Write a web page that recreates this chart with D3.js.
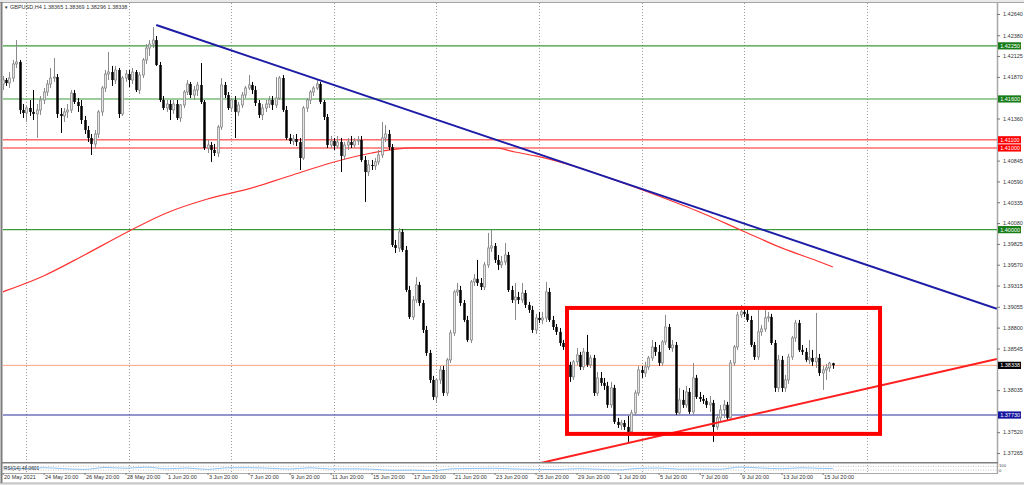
<!DOCTYPE html>
<html>
<head>
<meta charset="utf-8">
<script src="https://cdn.jsdelivr.net/npm/d3@7"></script>
<style>
html, body { margin: 0; padding: 0; background: #fff; overflow: hidden; }
svg text { font-family: "Liberation Sans", Arial, sans-serif; }
</style>
</head>
<body>
<svg id="chart" width="1024" height="485"></svg>
<script>
// GBPUSD H4 candles (bar 0 = 20 May 20:00)
const title = "GBPUSD,H4";
const lastQuote = [1.38365, 1.38369, 1.38296, 1.38338];

const opens = [1.41783,1.41832,1.41795,1.41856,1.42028,1.42053,1.41465,1.41428,1.41489,1.41441,
1.41416,1.41465,1.41587,1.41685,1.41783,1.41856,1.41868,1.41416,1.41392,1.41441,
1.41465,1.41672,1.41563,1.41514,1.41342,1.41220,1.41122,1.41048,1.41171,1.41441,
1.41734,1.41905,1.41930,1.41832,1.41954,1.41416,1.41856,1.41905,1.41832,1.41930,
1.41709,1.41893,1.42077,1.42223,1.42272,1.42321,1.42016,1.41587,1.41489,1.41538,
1.41465,1.41538,1.41367,1.41526,1.41685,1.41783,1.41648,1.41709,1.41771,1.41563,
1.40999,1.41036,1.40975,1.40938,1.41256,1.41771,1.41648,1.41489,1.41587,1.41441,
1.41526,1.41648,1.41734,1.41771,1.41709,1.41550,1.41404,1.41489,1.41538,1.41587,
1.41526,1.41611,1.41856,1.41465,1.41122,1.41085,1.41110,1.41073,1.40877,1.41489,
1.41587,1.41685,1.41734,1.41783,1.41563,1.41379,1.41036,1.41085,1.41024,1.41073,
1.40902,1.41036,1.41073,1.41036,1.41085,1.41097,1.40853,1.40706,1.40792,1.40780,
1.40829,1.40914,1.41122,1.41171,1.41011,1.39812,1.39775,1.39972,1.39751,1.39261,
1.38931,1.39139,1.39323,1.39102,1.38772,1.38490,1.38160,1.37951,1.38160,1.38282,
1.38000,1.38405,1.38735,1.39237,1.39261,1.39102,1.38894,1.38649,1.39360,1.39396,
1.39347,1.39298,1.39568,1.39775,1.39800,1.39629,1.39568,1.39605,1.39690,1.39261,
1.39139,1.39175,1.39139,1.39224,1.39078,1.39017,1.38772,1.38919,1.38894,1.38919,
1.39237,1.38894,1.38808,1.38748,1.38612,1.38563,1.38344,1.38196,1.38381,1.38466,
1.38319,1.38503,1.38344,1.38429,1.38000,1.38184,1.38123,1.38087,1.37854,1.38062,
1.37646,1.37609,1.37633,1.37584,1.37524,1.37756,1.38000,1.38282,1.38245,1.38319,
1.38429,1.38563,1.38503,1.38368,1.38625,1.38808,1.38551,1.38588,1.37756,1.37915,
1.37854,1.38013,1.37769,1.38184,1.37951,1.37927,1.37903,1.37854,1.37878,1.37584,
1.37695,1.37793,1.37854,1.37695,1.38368,1.38563,1.38956,1.38993,1.38968,1.38894,
1.38588,1.38441,1.38748,1.38784,1.38919,1.38931,1.38612,1.38062,1.38405,1.38062,
1.38160,1.38441,1.38674,1.38857,1.38527,1.38503,1.38405,1.38429,1.38381,1.38429,
1.38245,1.38282,1.38307,1.38365];

const highs = [1.41881,1.41856,1.41930,1.42077,1.42321,1.42077,1.41538,1.41514,1.41587,1.41709,
1.41538,1.41636,1.41734,1.41832,1.41979,1.42101,1.41905,1.41489,1.41489,1.41538,
1.41709,1.41709,1.41611,1.41587,1.41392,1.41269,1.41171,1.41220,1.41465,1.41759,
1.41954,1.42175,1.42004,1.42004,1.41979,1.41881,1.41954,1.41954,1.41979,1.41954,
1.41930,1.42101,1.42272,1.42321,1.42480,1.42371,1.42053,1.41636,1.41587,1.41587,
1.41587,1.41587,1.41538,1.41709,1.41832,1.41808,1.41759,1.41808,1.42040,1.41587,
1.41097,1.41073,1.41048,1.41281,1.41856,1.41808,1.41685,1.41611,1.41636,1.41563,
1.41685,1.41759,1.41893,1.41808,1.41759,1.41587,1.41538,1.41587,1.41636,1.41636,
1.41868,1.41881,1.41893,1.41514,1.41171,1.41159,1.41171,1.41122,1.41514,1.41611,
1.41709,1.41759,1.41844,1.41808,1.41587,1.41416,1.41147,1.41122,1.41147,1.41122,
1.41073,1.41122,1.41147,1.41122,1.41147,1.41147,1.40902,1.40853,1.40853,1.40877,
1.40975,1.41318,1.41281,1.41220,1.41048,1.39873,1.40020,1.40008,1.39800,1.39311,
1.39188,1.39420,1.39360,1.39139,1.38821,1.38527,1.38209,1.38184,1.38332,1.38332,
1.38429,1.38772,1.39261,1.39347,1.39311,1.39139,1.38944,1.39384,1.39457,1.39629,
1.39408,1.39605,1.39959,1.39996,1.39836,1.39690,1.39678,1.39836,1.39727,1.39311,
1.39347,1.39237,1.39347,1.39261,1.39115,1.39066,1.38968,1.38993,1.38993,1.39360,
1.39286,1.38944,1.38845,1.38796,1.38649,1.38600,1.38381,1.38405,1.38551,1.38503,
1.38551,1.38711,1.38466,1.38466,1.38258,1.38258,1.38184,1.38136,1.38136,1.38099,
1.37695,1.37670,1.37670,1.37720,1.37793,1.38037,1.38332,1.38332,1.38381,1.38454,
1.38649,1.38625,1.38588,1.38649,1.38956,1.38845,1.38649,1.38625,1.38062,1.38037,
1.38087,1.38062,1.38368,1.38221,1.38013,1.37976,1.37939,1.37964,1.37915,1.37744,
1.37854,1.37915,1.37891,1.38405,1.38588,1.38993,1.39078,1.39066,1.39041,1.38944,
1.38625,1.39017,1.38833,1.39017,1.38993,1.38968,1.38649,1.38466,1.38454,1.38221,
1.38478,1.38699,1.38894,1.38894,1.38588,1.38551,1.38649,1.38527,1.38980,1.38478,
1.38332,1.38356,1.38381,1.38369];

const lows = [1.41709,1.41759,1.41734,1.41808,1.41979,1.41416,1.41367,1.41318,1.41392,1.41342,
1.41122,1.41404,1.41538,1.41636,1.41734,1.41808,1.41367,1.41183,1.41318,1.41367,
1.41428,1.41538,1.41441,1.41293,1.41171,1.41073,1.40914,1.40999,1.41122,1.41392,
1.41685,1.41832,1.41759,1.41783,1.41367,1.41392,1.41808,1.41746,1.41783,1.41685,
1.41660,1.41856,1.42028,1.42126,1.42223,1.42004,1.41563,1.41465,1.41441,1.41342,
1.41416,1.41342,1.41318,1.41489,1.41648,1.41611,1.41587,1.41636,1.41538,1.40975,
1.40938,1.40829,1.40902,1.40889,1.41220,1.41611,1.41465,1.41441,1.41122,1.41392,
1.41489,1.41611,1.41709,1.41660,1.41514,1.41367,1.41342,1.41441,1.41489,1.41465,
1.41489,1.41587,1.41441,1.41097,1.41048,1.41036,1.41024,1.40730,1.40853,1.41441,
1.41538,1.41636,1.41709,1.41538,1.41342,1.40999,1.40999,1.40975,1.40999,1.40706,
1.40853,1.40975,1.40999,1.40999,1.41036,1.40829,1.40339,1.40657,1.40730,1.40730,
1.40792,1.40877,1.41073,1.40975,1.39787,1.39714,1.39727,1.39727,1.39237,1.38907,
1.38894,1.39102,1.39066,1.38735,1.38454,1.38123,1.37915,1.37878,1.38111,1.37964,
1.37964,1.38368,1.38699,1.39188,1.39066,1.38870,1.38625,1.38612,1.39311,1.39311,
1.39261,1.39261,1.39531,1.39727,1.39592,1.39506,1.39531,1.39568,1.39237,1.39102,
1.38894,1.39090,1.39102,1.39041,1.38980,1.38735,1.38723,1.38857,1.38845,1.38870,
1.38870,1.38772,1.38711,1.38576,1.38527,1.38307,1.38136,1.38160,1.38344,1.38282,
1.38282,1.38319,1.38307,1.37964,1.37964,1.38087,1.38037,1.37817,1.37817,1.37621,
1.37572,1.37548,1.37548,1.37401,1.37487,1.37720,1.37964,1.38184,1.38196,1.38282,
1.38393,1.38454,1.38332,1.38332,1.38588,1.38527,1.38503,1.37732,1.37732,1.37817,
1.37817,1.37744,1.37732,1.37927,1.37891,1.37866,1.37817,1.37769,1.37401,1.37548,
1.37646,1.37695,1.37670,1.37670,1.38332,1.38527,1.38919,1.38931,1.38870,1.38563,
1.38405,1.38405,1.38699,1.38748,1.38870,1.38588,1.38013,1.38013,1.38013,1.38013,
1.38111,1.38405,1.38625,1.38503,1.38466,1.38381,1.38356,1.38332,1.38307,1.38209,
1.38037,1.38160,1.38258,1.38296];

const closes = [1.41832,1.41795,1.41856,1.42028,1.42053,1.41465,1.41428,1.41489,1.41441,1.41416,
1.41465,1.41587,1.41685,1.41783,1.41856,1.41868,1.41416,1.41392,1.41441,1.41465,
1.41672,1.41563,1.41514,1.41342,1.41220,1.41122,1.41048,1.41171,1.41441,1.41734,
1.41905,1.41930,1.41832,1.41954,1.41416,1.41856,1.41905,1.41832,1.41930,1.41709,
1.41893,1.42077,1.42223,1.42272,1.42321,1.42016,1.41587,1.41489,1.41538,1.41465,
1.41538,1.41367,1.41526,1.41685,1.41783,1.41648,1.41709,1.41771,1.41563,1.40999,
1.41036,1.40975,1.40938,1.41256,1.41771,1.41648,1.41489,1.41587,1.41441,1.41526,
1.41648,1.41734,1.41771,1.41709,1.41550,1.41404,1.41489,1.41538,1.41587,1.41526,
1.41611,1.41856,1.41465,1.41122,1.41085,1.41110,1.41073,1.40877,1.41489,1.41587,
1.41685,1.41734,1.41783,1.41563,1.41379,1.41036,1.41085,1.41024,1.41073,1.40902,
1.41036,1.41073,1.41036,1.41085,1.41097,1.40853,1.40706,1.40792,1.40780,1.40829,
1.40914,1.41122,1.41171,1.41011,1.39812,1.39775,1.39972,1.39751,1.39261,1.38931,
1.39139,1.39323,1.39102,1.38772,1.38490,1.38160,1.37951,1.38160,1.38282,1.38000,
1.38405,1.38735,1.39237,1.39261,1.39102,1.38894,1.38649,1.39360,1.39396,1.39347,
1.39298,1.39568,1.39775,1.39800,1.39629,1.39568,1.39605,1.39690,1.39261,1.39139,
1.39175,1.39139,1.39224,1.39078,1.39017,1.38772,1.38919,1.38894,1.38919,1.39237,
1.38894,1.38808,1.38748,1.38612,1.38563,1.38344,1.38196,1.38381,1.38466,1.38319,
1.38503,1.38344,1.38429,1.38000,1.38184,1.38123,1.38087,1.37854,1.38062,1.37646,
1.37609,1.37633,1.37584,1.37524,1.37756,1.38000,1.38282,1.38245,1.38319,1.38429,
1.38563,1.38503,1.38368,1.38625,1.38808,1.38551,1.38588,1.37756,1.37915,1.37854,
1.38013,1.37769,1.38184,1.37951,1.37927,1.37903,1.37854,1.37878,1.37584,1.37695,
1.37793,1.37854,1.37695,1.38368,1.38563,1.38956,1.38993,1.38968,1.38894,1.38588,
1.38441,1.38748,1.38784,1.38919,1.38931,1.38612,1.38062,1.38405,1.38062,1.38160,
1.38441,1.38674,1.38857,1.38527,1.38503,1.38405,1.38429,1.38381,1.38429,1.38245,
1.38282,1.38307,1.38365,1.38338];

// red moving average
const maBars   = [0, 12, 24, 36, 48, 60, 72, 84, 96, 108, 120, 132, 144, 150, 156, 168, 180, 192, 204, 216, 228, 240, 243];
const maValues = [1.39237,1.39433,1.39690,1.39959,1.40204,1.40375,1.40498,1.40657,1.40816,1.40938,1.41000,1.41000,
                  1.41000,1.40950,1.40902,1.40767,1.40596,1.40412,1.40216,1.39996,1.39776,1.39592,1.39543];

// RSI(14) sub window
const rsiBars   = [0,6,12,18,24,30,36,42,48,54,60,66,72,78,84,90,96,102,108,114,120,126,132,138,144,150,156,162,168,174,180,186,192,198,204,210,216,222,228,234,240,243];
const rsiValues = [55,45,56,45,38,58,50,62,44,52,38,55,56,50,42,55,42,44,40,28,30,25,45,48,50,42,38,36,45,40,32,48,52,40,42,40,62,52,45,55,48,48.06];
const rsiLabel = "RSI(14) 48.0601";

// horizontal levels drawn on the chart
const levelPrices = [1.42250, 1.41600, 1.41100, 1.41000, 1.40000, 1.37730];
const levelKinds  = ["green", "green", "red", "red", "green", "navy"];
const bidPrice = 1.38338;

// trend lines: [bar, price] anchors, drawn as rays
const downTrend = [[45, 1.42505], [92, 1.41841]];
const upTrend   = [[183, 1.37386], [243, 1.37958]];
// rectangle: bar range and price range
const boxBars   = [165.2, 256.8];
const boxPrices = [1.39041, 1.37499];

// axes
const priceTicks = [1.42640,1.42380,1.42125,1.41870,1.41615,1.41360,1.41105,1.40845,1.40590,1.40335,1.40080,
                    1.39825,1.39570,1.39315,1.39055,1.38800,1.38545,1.38290,1.38035,1.37780,1.37520,1.37265];
const timeBars   = [0,12,24,36,48,60,72,84,96,108,120,132,144,156,168,180,192,204,216,228,240];
const timeLabels = ["20 May 2021","24 May 20:00","26 May 20:00","28 May 20:00","1 Jun 20:00","3 Jun 20:00",
                    "7 Jun 20:00","9 Jun 20:00","11 Jun 20:00","15 Jun 20:00","17 Jun 20:00","21 Jun 20:00",
                    "23 Jun 20:00","25 Jun 20:00","29 Jun 20:00","1 Jul 20:00","5 Jul 20:00","7 Jul 20:00",
                    "9 Jul 20:00","13 Jul 20:00","15 Jul 20:00"];
const gridBars = [7, 37, 67, 97, 127, 157, 187, 217, 253];

const W = 1024, H = 485;
const L = 3, R = 997, T = 3, B = 462, RT = 463.5, RB = 473;
const FONT = "5.5px";

const svg = d3.select("#chart");
const x = d3.scaleLinear().domain([0, 291]).range([2.5, 996.9]);
const y = d3.scaleLinear().domain([1.37265, 1.42640]).range([453, 14]);
const yr = d3.scaleLinear().domain([0, 100]).range([RB, RT]);

const colors = { green: "#3c9a3c", red: "#ff6b6b", navy: "#2a2aa0" };
const labelFill = { green: "#187d18", red: "#ff0000", navy: "#1414a0" };

svg.append("rect").attr("width", W).attr("height", H).attr("fill", "#fff");

const defs = svg.append("defs");
defs.append("clipPath").attr("id", "mainClip")
  .append("rect").attr("x", L).attr("y", T).attr("width", R - L).attr("height", B - T);
defs.append("clipPath").attr("id", "rsiClip")
  .append("rect").attr("x", L).attr("y", RT).attr("width", R - L).attr("height", RB - RT);

// grid
svg.append("g").selectAll("line").data(gridBars).join("line")
  .attr("x1", d => Math.round(x(d)) + 0.5).attr("x2", d => Math.round(x(d)) + 0.5)
  .attr("y1", T).attr("y2", RB)
  .attr("stroke", "#9c9c9c").attr("stroke-width", 1).attr("stroke-dasharray", "1,2");

const main = svg.append("g").attr("clip-path", "url(#mainClip)");

// horizontal levels
main.append("g").selectAll("line").data(levelPrices).join("line")
  .attr("x1", L).attr("x2", R)
  .attr("y1", d => y(d)).attr("y2", d => y(d))
  .attr("stroke", (d, i) => colors[levelKinds[i]])
  .attr("stroke-width", (d, i) => levelKinds[i] === "red" ? 1.6 : 1.1);
main.append("line").attr("x1", L).attr("x2", R).attr("y1", y(bidPrice)).attr("y2", y(bidPrice))
  .attr("stroke", "#ffa37f").attr("stroke-width", 1);

// moving average
main.append("path")
  .datum(maBars.map((b, i) => [b, maValues[i]]))
  .attr("fill", "none").attr("stroke", "#ff3434").attr("stroke-width", 1.2)
  .attr("d", d3.line().x(d => x(d[0])).y(d => y(d[1])).curve(d3.curveMonotoneX));

// candles
const candles = d3.range(opens.length).map(i => ({ i, o: opens[i], h: highs[i], l: lows[i], c: closes[i] }));
const cg = main.append("g");
cg.selectAll("line").data(candles).join("line")
  .attr("x1", d => Math.round(x(d.i)) + 0.5).attr("x2", d => Math.round(x(d.i)) + 0.5)
  .attr("y1", d => y(d.h)).attr("y2", d => y(d.l))
  .attr("stroke", d => d.c >= d.o ? "#8a8a8a" : "#000").attr("stroke-width", 1);
cg.selectAll("rect").data(candles).join("rect")
  .attr("x", d => d.c >= d.o ? Math.round(x(d.i)) - 0.5 : Math.round(x(d.i)) - 0.75)
  .attr("width", d => d.c >= d.o ? 2 : 2.5)
  .attr("y", d => y(Math.max(d.o, d.c)))
  .attr("height", d => Math.max(1, y(Math.min(d.o, d.c)) - y(Math.max(d.o, d.c))))
  .attr("fill", d => d.c >= d.o ? "#e4e4e4" : "#000")
  .attr("stroke", d => d.c >= d.o ? "#8a8a8a" : "none")
  .attr("stroke-width", 0.8);

// trend lines (rays to the right edge)
function ray(pts, fromBar) {
  const k = (pts[1][1] - pts[0][1]) / (pts[1][0] - pts[0][0]);
  const b0 = fromBar == null ? pts[0][0] : fromBar;
  return [[b0, pts[0][1] + k * (b0 - pts[0][0])], [291, pts[0][1] + k * (291 - pts[0][0])]];
}
const lineGen = d3.line().x(d => x(d[0])).y(d => y(d[1]));
main.append("path").datum(ray(downTrend)).attr("d", lineGen)
  .attr("fill", "none").attr("stroke", "#1c1ca6").attr("stroke-width", 2);
main.append("path").datum(ray(upTrend, 140)).attr("d", lineGen)
  .attr("fill", "none").attr("stroke", "#ff1f1f").attr("stroke-width", 2);

// rectangle
main.append("rect")
  .attr("x", x(boxBars[0])).attr("width", x(boxBars[1]) - x(boxBars[0]))
  .attr("y", y(boxPrices[0])).attr("height", y(boxPrices[1]) - y(boxPrices[0]))
  .attr("fill", "none").attr("stroke", "#ff0000").attr("stroke-width", 4);

// RSI window
svg.append("g").selectAll("line").data([70, 30]).join("line")
  .attr("x1", L).attr("x2", R).attr("y1", d => yr(d)).attr("y2", d => yr(d))
  .attr("stroke", "#b8b8b8").attr("stroke-width", 0.8).attr("stroke-dasharray", "1,1.5");
svg.append("path").attr("clip-path", "url(#rsiClip)")
  .datum(rsiBars.map((b, i) => [b, rsiValues[i]]))
  .attr("fill", "none").attr("stroke", "#8cc2ef").attr("stroke-width", 1)
  .attr("d", d3.line().x(d => x(d[0])).y(d => yr(d[1])).curve(d3.curveMonotoneX));
svg.append("text").attr("x", 4).attr("y", 469.8).attr("font-size", "4.8px").attr("fill", "#333").text(rsiLabel);

// frame
svg.append("rect").attr("x", 0).attr("y", 0).attr("width", W).attr("height", 2.5).attr("fill", "#e9e9e9");
svg.append("line").attr("x1", 0).attr("x2", W).attr("y1", 2.5).attr("y2", 2.5).attr("stroke", "#a5a5a5");
svg.append("line").attr("x1", 1.5).attr("x2", 1.5).attr("y1", 2).attr("y2", 483).attr("stroke", "#7c7c7c").attr("stroke-width", 2);
svg.append("line").attr("x1", R + 0.5).attr("x2", R + 0.5).attr("y1", T).attr("y2", RB).attr("stroke", "#a8a8a8").attr("stroke-width", 1.5);
svg.append("line").attr("x1", 2).attr("x2", R + 1).attr("y1", B + 0.8).attr("y2", B + 0.8).attr("stroke", "#808080").attr("stroke-width", 1.6);
svg.append("line").attr("x1", 2).attr("x2", R + 1).attr("y1", RB + 0.5).attr("y2", RB + 0.5).attr("stroke", "#a8a8a8").attr("stroke-width", 1);
svg.append("rect").attr("x", 0).attr("y", 483).attr("width", W).attr("height", 2).attr("fill", "#e2e2e2");
svg.append("line").attr("x1", 0).attr("x2", W).attr("y1", 483).attr("y2", 483).attr("stroke", "#a0a0a0").attr("stroke-width", 0.8);

// labels for levels on the price axis
const tags = levelPrices.map((p, i) => ({ p, fill: labelFill[levelKinds[i]] }))
  .concat([{ p: bidPrice, fill: "#000" }]);

// price axis: ticks hidden behind a level tag are left out, as in the terminal
const shownTicks = priceTicks.filter(t => tags.every(g => Math.abs(y(t) - y(g.p)) > 4.6));
const yAxis = svg.append("g").attr("transform", `translate(${R},0)`)
  .call(d3.axisRight(y).tickValues(shownTicks).tickFormat(d3.format(".5f")).tickSize(3).tickPadding(3));
yAxis.select(".domain").remove();
yAxis.selectAll("line").attr("stroke", "#777");
yAxis.selectAll("text").attr("font-size", FONT).attr("fill", "#333");
svg.append("text").attr("x", 999).attr("y", 467).attr("font-size", "4.2px").attr("fill", "#444").text("100");
svg.append("text").attr("x", 999).attr("y", 471.5).attr("font-size", "4.2px").attr("fill", "#444").text("0");

// time axis
const xAxis = svg.append("g").attr("transform", `translate(0,${RB})`)
  .call(d3.axisBottom(x).tickValues(timeBars).tickFormat((d, i) => timeLabels[i]).tickSize(2));
xAxis.select(".domain").remove();
xAxis.selectAll("line").attr("stroke", "#777");
xAxis.selectAll("text").attr("font-size", FONT).attr("fill", "#333")
  .attr("text-anchor", "start").attr("y", 5.6).attr("dy", 0).attr("dx", 1);

const tg = svg.append("g").selectAll("g").data(tags).join("g")
  .attr("transform", d => `translate(998,${y(d.p)})`);
tg.append("rect").attr("x", 0).attr("y", -3.6).attr("width", 23).attr("height", 7.2).attr("fill", d => d.fill);
tg.append("text").attr("x", 2.2).attr("y", 2).attr("font-size", FONT).attr("fill", "#fff")
  .text(d => d3.format(".5f")(d.p));

// title
svg.append("text").attr("x", 4).attr("y", 9).attr("font-size", "4.5px").attr("fill", "#333").text("\u25BC");
svg.append("text").attr("x", 10).attr("y", 9).attr("font-size", FONT).attr("fill", "#333")
  .text(title + "  " + lastQuote.map(d3.format(".5f")).join(" "));
</script>
</body>
</html>
